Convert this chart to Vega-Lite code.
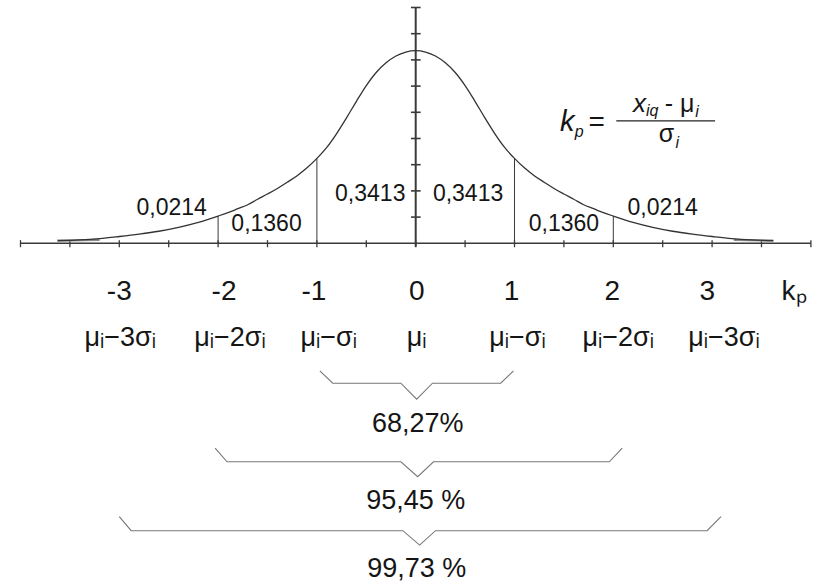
{
  "$schema": "https://vega.github.io/schema/vega-lite/v6.json",
  "width": 823,
  "height": 583,
  "autosize": {"type": "none"},
  "padding": 0,
  "background": "white",
  "config": {
    "view": {"stroke": null},
    "text": {"font": "Liberation Sans", "color": "#151515"}
  },
  "datasets": {
    "curve": [
      {"k": -3.62, "v": 0.1}, {"k": -3.4, "v": 0.13}, {"k": -3.2, "v": 0.18}, {"k": -3.0, "v": 0.26},
      {"k": -2.8, "v": 0.35}, {"k": -2.6, "v": 0.46}, {"k": -2.4, "v": 0.61}, {"k": -2.2, "v": 0.8},
      {"k": -2.0, "v": 1.04}, {"k": -1.9, "v": 1.17}, {"k": -1.8, "v": 1.32}, {"k": -1.7, "v": 1.47},
      {"k": -1.6, "v": 1.68}, {"k": -1.5, "v": 1.88}, {"k": -1.4, "v": 2.09}, {"k": -1.3, "v": 2.33},
      {"k": -1.2, "v": 2.58}, {"k": -1.1, "v": 2.88}, {"k": -1.0, "v": 3.24}, {"k": -0.9, "v": 3.66},
      {"k": -0.8, "v": 4.19}, {"k": -0.7, "v": 4.79}, {"k": -0.6, "v": 5.42}, {"k": -0.5, "v": 6.02},
      {"k": -0.4, "v": 6.52}, {"k": -0.3, "v": 6.89}, {"k": -0.2, "v": 7.15}, {"k": -0.1, "v": 7.3},
      {"k": 0.0, "v": 7.35},
      {"k": 0.1, "v": 7.3}, {"k": 0.2, "v": 7.15}, {"k": 0.3, "v": 6.89}, {"k": 0.4, "v": 6.52},
      {"k": 0.5, "v": 6.02}, {"k": 0.6, "v": 5.42}, {"k": 0.7, "v": 4.79}, {"k": 0.8, "v": 4.19},
      {"k": 0.9, "v": 3.66}, {"k": 1.0, "v": 3.24}, {"k": 1.1, "v": 2.88}, {"k": 1.2, "v": 2.58},
      {"k": 1.3, "v": 2.33}, {"k": 1.4, "v": 2.09}, {"k": 1.5, "v": 1.88}, {"k": 1.6, "v": 1.68},
      {"k": 1.7, "v": 1.47}, {"k": 1.8, "v": 1.32}, {"k": 1.9, "v": 1.17}, {"k": 2.0, "v": 1.04},
      {"k": 2.2, "v": 0.8}, {"k": 2.4, "v": 0.61}, {"k": 2.6, "v": 0.46}, {"k": 2.8, "v": 0.35},
      {"k": 3.0, "v": 0.26}, {"k": 3.2, "v": 0.18}, {"k": 3.4, "v": 0.13}, {"k": 3.62, "v": 0.1}
    ],
    "tails": [
      {"side": "left", "k": -3.63, "v": 0.1}, {"side": "left", "k": -3.2, "v": 0.13},
      {"side": "right", "k": 3.22, "v": 0.13}, {"side": "right", "k": 3.62, "v": 0.1}
    ],
    "dividers": [
      {"k": -2, "v": 1.04}, {"k": -1, "v": 3.24}, {"k": 1, "v": 3.24}, {"k": 2, "v": 1.04}
    ],
    "xTicks": [
      {"k": -4}, {"k": -3.5}, {"k": -3}, {"k": -2.5}, {"k": -2}, {"k": -1.5}, {"k": -1}, {"k": -0.5},
      {"k": 0}, {"k": 0.5}, {"k": 1}, {"k": 1.5}, {"k": 2}, {"k": 2.5}, {"k": 3}, {"k": 3.5}, {"k": 4}
    ],
    "yTicks": [
      {"v": 1}, {"v": 2}, {"v": 3}, {"v": 4}, {"v": 5}, {"v": 6}, {"v": 7}, {"v": 8}, {"v": 9}
    ],
    "areas": [
      {"label": "0,0214", "k": -2.47, "v": 1.35},
      {"label": "0,1360", "k": -1.51, "v": 0.74},
      {"label": "0,3413", "k": -0.46, "v": 1.89},
      {"label": "0,3413", "k": 0.53, "v": 1.89},
      {"label": "0,1360", "k": 1.5, "v": 0.74},
      {"label": "0,0214", "k": 2.5, "v": 1.35}
    ],
    "kLabels": [
      {"label": "-3", "k": -3}, {"label": "-2", "k": -1.94}, {"label": "-1", "k": -1.03},
      {"label": "0", "k": 0.01}, {"label": "1", "k": 0.97}, {"label": "2", "k": 1.99},
      {"label": "3", "k": 2.95}, {"label": "kₚ", "k": 3.83}
    ],
    "muLabels": [
      {"label": "μᵢ−3σᵢ", "k": -2.99}, {"label": "μᵢ−2σᵢ", "k": -1.88}, {"label": "μᵢ−σᵢ", "k": -0.88},
      {"label": "μᵢ", "k": 0.01}, {"label": "μᵢ−σᵢ", "k": 1.03}, {"label": "μᵢ−2σᵢ", "k": 2.05},
      {"label": "μᵢ−3σᵢ", "k": 3.12}
    ],
    "braces": [
      {"id": "b1", "n": 1, "k": -0.97, "v": -4.87}, {"id": "b1", "n": 2, "k": -0.84, "v": -5.34},
      {"id": "b1", "n": 3, "k": -0.15, "v": -5.34}, {"id": "b1", "n": 4, "k": 0.01, "v": -5.95},
      {"id": "b1", "n": 5, "k": 0.17, "v": -5.34}, {"id": "b1", "n": 6, "k": 0.86, "v": -5.34},
      {"id": "b1", "n": 7, "k": 0.99, "v": -4.87},
      {"id": "b2", "n": 1, "k": -2.03, "v": -7.82}, {"id": "b2", "n": 2, "k": -1.91, "v": -8.34},
      {"id": "b2", "n": 3, "k": -0.15, "v": -8.34}, {"id": "b2", "n": 4, "k": 0.02, "v": -8.91},
      {"id": "b2", "n": 5, "k": 0.18, "v": -8.34}, {"id": "b2", "n": 6, "k": 1.96, "v": -8.34},
      {"id": "b2", "n": 7, "k": 2.09, "v": -7.82},
      {"id": "b3", "n": 1, "k": -3.0, "v": -10.43}, {"id": "b3", "n": 2, "k": -2.88, "v": -10.97},
      {"id": "b3", "n": 3, "k": -0.13, "v": -10.97}, {"id": "b3", "n": 4, "k": 0.04, "v": -11.52},
      {"id": "b3", "n": 5, "k": 0.2, "v": -10.97}, {"id": "b3", "n": 6, "k": 2.95, "v": -10.97},
      {"id": "b3", "n": 7, "k": 3.09, "v": -10.43}
    ],
    "shares": [
      {"label": "68,27%", "k": 0.02, "v": -6.9},
      {"label": "95,45 %", "k": 0.0, "v": -9.84},
      {"label": "99,73 %", "k": 0.01, "v": -12.43}
    ],
    "formula": [
      {"part": "bigItalic", "label": "k", "k": 1.46, "v": 4.29},
      {"part": "bigUpright", "label": "=", "k": 1.75, "v": 4.29},
      {"part": "italic", "label": "x", "k": 2.2, "v": 5.02},
      {"part": "upright", "label": "- μ", "k": 2.52, "v": 5.02},
      {"part": "upright", "label": "σ", "k": 2.46, "v": 3.88},
      {"part": "sub", "label": "p", "k": 1.61, "v": 4.05},
      {"part": "sub", "label": "iq", "k": 2.33, "v": 4.86},
      {"part": "sub", "label": "i", "k": 2.83, "v": 4.82},
      {"part": "sub", "label": "i", "k": 2.63, "v": 3.64}
    ]
  },
  "layer": [
    {
      "data": {"values": [{}]},
      "mark": {"type": "rule", "color": "#3a3a3a", "strokeWidth": 1.4},
      "encoding": {
        "x": {"datum": -4, "scale": {"domain": [-4.2075, 4.1225], "nice": false, "zero": false}, "axis": null},
        "x2": {"datum": 4},
        "y": {"datum": 0, "scale": {"domain": [-12.966, 9.286], "nice": false, "zero": false}, "axis": null}
      }
    },
    {
      "data": {"values": [{}]},
      "mark": {"type": "rule", "color": "#3a3a3a", "strokeWidth": 2},
      "encoding": {
        "x": {"datum": 0, "scale": {"domain": [-4.2075, 4.1225], "nice": false, "zero": false}, "axis": null},
        "y": {"datum": -0.13, "scale": {"domain": [-12.966, 9.286], "nice": false, "zero": false}, "axis": null},
        "y2": {"datum": 9}
      }
    },
    {
      "data": {"name": "xTicks"},
      "mark": {"type": "rule", "color": "#3a3a3a", "strokeWidth": 1.3},
      "encoding": {
        "x": {"field": "k", "type": "quantitative", "scale": {"domain": [-4.2075, 4.1225], "nice": false, "zero": false}, "axis": null},
        "y": {"datum": -0.15, "scale": {"domain": [-12.966, 9.286], "nice": false, "zero": false}, "axis": null},
        "y2": {"datum": 0.12}
      }
    },
    {
      "data": {"name": "yTicks"},
      "mark": {"type": "rule", "color": "#3a3a3a", "strokeWidth": 1.6},
      "encoding": {
        "x": {"datum": -0.048, "scale": {"domain": [-4.2075, 4.1225], "nice": false, "zero": false}, "axis": null},
        "x2": {"datum": 0.05},
        "y": {"field": "v", "type": "quantitative", "scale": {"domain": [-12.966, 9.286], "nice": false, "zero": false}, "axis": null}
      }
    },
    {
      "data": {"name": "dividers"},
      "mark": {"type": "rule", "color": "#3a3a3a", "strokeWidth": 1},
      "encoding": {
        "x": {"field": "k", "type": "quantitative", "scale": {"domain": [-4.2075, 4.1225], "nice": false, "zero": false}, "axis": null},
        "y": {"field": "v", "type": "quantitative", "scale": {"domain": [-12.966, 9.286], "nice": false, "zero": false}, "axis": null},
        "y2": {"datum": 0}
      }
    },
    {
      "data": {"name": "tails"},
      "mark": {"type": "line", "color": "#8a8a8a", "strokeWidth": 2.2},
      "encoding": {
        "x": {"field": "k", "type": "quantitative", "scale": {"domain": [-4.2075, 4.1225], "nice": false, "zero": false}, "axis": null},
        "y": {"field": "v", "type": "quantitative", "scale": {"domain": [-12.966, 9.286], "nice": false, "zero": false}, "axis": null},
        "detail": {"field": "side"}
      }
    },
    {
      "data": {"name": "curve"},
      "mark": {"type": "line", "color": "#333333", "strokeWidth": 1.3, "interpolate": "monotone"},
      "encoding": {
        "x": {"field": "k", "type": "quantitative", "scale": {"domain": [-4.2075, 4.1225], "nice": false, "zero": false}, "axis": null},
        "y": {"field": "v", "type": "quantitative", "scale": {"domain": [-12.966, 9.286], "nice": false, "zero": false}, "axis": null}
      }
    },
    {
      "data": {"name": "areas"},
      "mark": {"type": "text", "fontSize": 23, "align": "center", "baseline": "middle"},
      "encoding": {
        "x": {"field": "k", "type": "quantitative", "scale": {"domain": [-4.2075, 4.1225], "nice": false, "zero": false}, "axis": null},
        "y": {"field": "v", "type": "quantitative", "scale": {"domain": [-12.966, 9.286], "nice": false, "zero": false}, "axis": null},
        "text": {"field": "label"}
      }
    },
    {
      "data": {"name": "kLabels"},
      "mark": {"type": "text", "fontSize": 28, "align": "center", "baseline": "middle"},
      "encoding": {
        "x": {"field": "k", "type": "quantitative", "scale": {"domain": [-4.2075, 4.1225], "nice": false, "zero": false}, "axis": null},
        "y": {"datum": -1.86, "scale": {"domain": [-12.966, 9.286], "nice": false, "zero": false}, "axis": null},
        "text": {"field": "label"}
      }
    },
    {
      "data": {"name": "muLabels"},
      "mark": {"type": "text", "fontSize": 27, "align": "center", "baseline": "middle"},
      "encoding": {
        "x": {"field": "k", "type": "quantitative", "scale": {"domain": [-4.2075, 4.1225], "nice": false, "zero": false}, "axis": null},
        "y": {"datum": -3.61, "scale": {"domain": [-12.966, 9.286], "nice": false, "zero": false}, "axis": null},
        "text": {"field": "label"}
      }
    },
    {
      "data": {"name": "braces"},
      "mark": {"type": "line", "color": "#777777", "strokeWidth": 1.1},
      "encoding": {
        "x": {"field": "k", "type": "quantitative", "scale": {"domain": [-4.2075, 4.1225], "nice": false, "zero": false}, "axis": null},
        "y": {"field": "v", "type": "quantitative", "scale": {"domain": [-12.966, 9.286], "nice": false, "zero": false}, "axis": null},
        "detail": {"field": "id"},
        "order": {"field": "n"}
      }
    },
    {
      "data": {"name": "shares"},
      "mark": {"type": "text", "fontSize": 27, "align": "center", "baseline": "middle"},
      "encoding": {
        "x": {"field": "k", "type": "quantitative", "scale": {"domain": [-4.2075, 4.1225], "nice": false, "zero": false}, "axis": null},
        "y": {"field": "v", "type": "quantitative", "scale": {"domain": [-12.966, 9.286], "nice": false, "zero": false}, "axis": null},
        "text": {"field": "label"}
      }
    },
    {
      "data": {"name": "formula"},
      "transform": [{"filter": "datum.part === 'bigItalic'"}],
      "mark": {"type": "text", "fontSize": 29, "fontStyle": "italic", "align": "left", "baseline": "alphabetic"},
      "encoding": {
        "x": {"field": "k", "type": "quantitative", "scale": {"domain": [-4.2075, 4.1225], "nice": false, "zero": false}, "axis": null},
        "y": {"field": "v", "type": "quantitative", "scale": {"domain": [-12.966, 9.286], "nice": false, "zero": false}, "axis": null},
        "text": {"field": "label"}
      }
    },
    {
      "data": {"name": "formula"},
      "transform": [{"filter": "datum.part === 'bigUpright'"}],
      "mark": {"type": "text", "fontSize": 28, "align": "left", "baseline": "alphabetic"},
      "encoding": {
        "x": {"field": "k", "type": "quantitative", "scale": {"domain": [-4.2075, 4.1225], "nice": false, "zero": false}, "axis": null},
        "y": {"field": "v", "type": "quantitative", "scale": {"domain": [-12.966, 9.286], "nice": false, "zero": false}, "axis": null},
        "text": {"field": "label"}
      }
    },
    {
      "data": {"name": "formula"},
      "transform": [{"filter": "datum.part === 'italic'"}],
      "mark": {"type": "text", "fontSize": 26, "fontStyle": "italic", "align": "left", "baseline": "alphabetic"},
      "encoding": {
        "x": {"field": "k", "type": "quantitative", "scale": {"domain": [-4.2075, 4.1225], "nice": false, "zero": false}, "axis": null},
        "y": {"field": "v", "type": "quantitative", "scale": {"domain": [-12.966, 9.286], "nice": false, "zero": false}, "axis": null},
        "text": {"field": "label"}
      }
    },
    {
      "data": {"name": "formula"},
      "transform": [{"filter": "datum.part === 'upright'"}],
      "mark": {"type": "text", "fontSize": 25, "align": "left", "baseline": "alphabetic"},
      "encoding": {
        "x": {"field": "k", "type": "quantitative", "scale": {"domain": [-4.2075, 4.1225], "nice": false, "zero": false}, "axis": null},
        "y": {"field": "v", "type": "quantitative", "scale": {"domain": [-12.966, 9.286], "nice": false, "zero": false}, "axis": null},
        "text": {"field": "label"}
      }
    },
    {
      "data": {"name": "formula"},
      "transform": [{"filter": "datum.part === 'sub'"}],
      "mark": {"type": "text", "fontSize": 16, "fontStyle": "italic", "align": "left", "baseline": "alphabetic"},
      "encoding": {
        "x": {"field": "k", "type": "quantitative", "scale": {"domain": [-4.2075, 4.1225], "nice": false, "zero": false}, "axis": null},
        "y": {"field": "v", "type": "quantitative", "scale": {"domain": [-12.966, 9.286], "nice": false, "zero": false}, "axis": null},
        "text": {"field": "label"}
      }
    },
    {
      "data": {"values": [{}]},
      "mark": {"type": "rule", "color": "#222222", "strokeWidth": 1.2},
      "encoding": {
        "x": {"datum": 2.03, "scale": {"domain": [-4.2075, 4.1225], "nice": false, "zero": false}, "axis": null},
        "x2": {"datum": 3.03},
        "y": {"datum": 4.67, "scale": {"domain": [-12.966, 9.286], "nice": false, "zero": false}, "axis": null}
      }
    }
  ]
}
